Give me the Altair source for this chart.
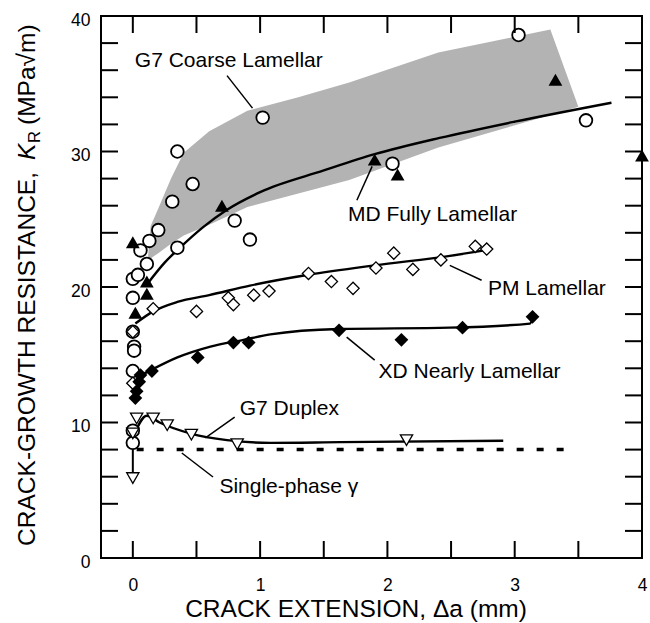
import altair as alt
import pandas as pd

FONT = "Liberation Sans"
W, H = 541, 542

# ---------------- data ----------------
# G7 Coarse Lamellar (open circles)
coarse_x = [1.02, 0.35, 0.47, 0.31, 0.80, 0.92, 0.20, 0.13, 0.35, 0.06, 0.11, 0.00, 0.04,
            0.00, 0.00, 0.01, 0.01, 0.00, 0.00, 0.00, 3.03, 3.56, 2.04]
coarse_y = [32.5, 30.0, 27.6, 26.3, 24.9, 23.5, 24.2, 23.4, 22.9, 22.7, 21.7, 20.6, 20.9,
            19.2, 16.7, 15.6, 15.3, 13.8, 9.4, 8.5, 38.6, 32.3, 29.1]
# MD Fully Lamellar (filled triangles)
md_x = [0.00, 0.11, 0.11, 0.02, 0.70, 1.90, 2.08, 3.32, 4.00]
md_y = [23.3, 20.4, 19.5, 18.1, 26.0, 29.4, 28.3, 35.3, 29.7]
# PM Lamellar (open diamonds)
pm_x = [0.00, 0.00, 0.16, 0.50, 0.75, 0.79, 0.95, 1.07, 1.38, 1.56, 1.73, 1.91, 2.05,
        2.20, 2.42, 2.69, 2.78]
pm_y = [16.7, 12.9, 18.4, 18.2, 19.2, 18.7, 19.4, 19.7, 21.0, 20.4, 19.9, 21.4, 22.5,
        21.3, 22.0, 23.0, 22.8]
# XD Nearly Lamellar (filled diamonds)
xd_x = [0.02, 0.03, 0.05, 0.06, 0.15, 0.51, 0.79, 0.91, 1.62, 2.11, 2.59, 3.14]
xd_y = [11.8, 12.3, 13.0, 13.5, 13.8, 14.8, 15.9, 15.9, 16.8, 16.1, 17.0, 17.8]
# G7 Duplex (open down triangles)
dup_x = [0.03, 0.16, 0.27, 0.46, 0.82, 0.00, 0.00, 2.15]
dup_y = [10.3, 10.3, 9.8, 9.1, 8.4, 9.2, 5.9, 8.7]

# fitted curves
md_fit_x = [0.12, 0.25, 0.37, 0.55, 0.74, 1.00, 1.50, 1.90, 2.41, 3.00, 3.76]
md_fit_y = [20.3, 21.8, 22.9, 24.4, 25.7, 27.0, 28.6, 29.8, 31.0, 32.2, 33.6]
pm_fit_x = [0.02, 0.16, 0.35, 0.60, 0.92, 1.38, 1.90, 2.49, 2.82]
pm_fit_y = [17.3, 18.2, 18.9, 19.4, 20.1, 20.9, 21.6, 22.3, 22.8]
xd_fit_x = [0.03, 0.15, 0.35, 0.61, 0.87, 1.08, 1.62, 2.49, 3.12, 3.14]
xd_fit_y = [13.3, 13.9, 14.8, 15.6, 16.1, 16.5, 16.9, 17.0, 17.3, 17.7]
dup_fit_x = [0.00, 0.11, 0.21, 0.45, 0.74, 1.08, 1.63, 2.91]
dup_fit_y = [8.9, 10.5, 10.0, 9.2, 8.7, 8.5, 8.55, 8.65]

# scatter band of G7 coarse lamellar
band_x = [0.12, 0.14, 0.20, 0.30, 0.40, 0.60, 0.90, 1.30, 1.70, 2.40, 3.28, 3.50]
band_lo = [22.0, 22.1, 22.5, 23.2, 23.8, 24.6, 25.9, 26.9, 27.9, 30.3, 32.7, 33.3]
band_hi = [22.3, 24.5, 25.8, 28.0, 29.9, 31.5, 33.0, 34.0, 35.1, 37.3, 39.0, 33.3]

# single-phase gamma level
gamma_level = 8.0
gamma_x = [0.03, 3.40]

# arrow at x=0 for duplex
arrow_x = [0.0]
arrow_y = [8.9]
arrow_y2 = [6.0]

# annotations
ann_text = ["G7 Coarse Lamellar", "MD Fully Lamellar", "PM Lamellar",
            "XD Nearly Lamellar", "G7 Duplex", "Single-phase \u03b3"]
ann_x = [0.016, 1.69, 2.79, 1.93, 0.84, 0.68]
ann_y = [36.2, 24.9, 19.4, 13.3, 10.55, 4.8]
lead_x = [0.74, 1.88, 2.49, 1.68, 0.80, 0.385]
lead_y = [35.6, 28.9, 21.6, 16.3, 10.4, 7.75]
lead_x2 = [0.94, 1.76, 2.74, 1.90, 0.57, 0.63]
lead_y2 = [33.2, 26.4, 20.5, 14.6, 8.86, 5.98]

x_tick_labels = [0, 1, 2, 3, 4]
y_tick_labels = [0, 10, 20, 30, 40]
x_minor = [0, 0.5, 1, 1.5, 2, 2.5, 3, 3.5]
y_minor = [2, 4, 6, 8, 10, 12, 14, 16, 18, 20, 22, 24, 26, 28, 30, 32, 34, 36, 38]

# ---------------- chart ----------------
xscale = alt.Scale(domain=[-0.25, 4.0], nice=False, zero=False)
yscale = alt.Scale(domain=[0, 40], nice=False, zero=False)
xaxis = alt.Axis(values=x_tick_labels, format="d", labelFont=FONT, labelFontSize=17.5,
                 labelColor="black", ticks=False, tickSize=0, domain=False, grid=False,
                 labelPadding=18, labelFlush=False, labelOverlap=False, title=None)
yaxis = alt.Axis(values=y_tick_labels, format="d", labelFont=FONT, labelFontSize=17.5,
                 labelColor="black", ticks=False, tickSize=0, domain=False, grid=False,
                 labelPadding=11, labelOffset=4, labelFlush=False, labelOverlap=False,
                 title=None)


def X(f):
    return alt.X(f"{f}:Q", scale=xscale, axis=xaxis)


def Y(f):
    return alt.Y(f"{f}:Q", scale=yscale, axis=yaxis)


band = alt.Chart(pd.DataFrame({"x": band_x, "lo": band_lo, "hi": band_hi})).mark_area(
    color="#b3b3b3", opacity=1).encode(x=X("x"), y=Y("lo"), y2=alt.Y2("hi"))

gamma = alt.Chart(pd.DataFrame({"x": [gamma_x[0]], "x2": [gamma_x[1]], "y": [gamma_level]})).mark_rule(
    color="black", strokeWidth=3.5, strokeDash=[7, 13]).encode(x=X("x"), x2=alt.X2("x2"), y=Y("y"))

fit_rows = []
for name, xs, ys in [("md", md_fit_x, md_fit_y), ("pm", pm_fit_x, pm_fit_y),
                     ("xd", xd_fit_x, xd_fit_y), ("dup", dup_fit_x, dup_fit_y)]:
    for i, (a, b) in enumerate(zip(xs, ys)):
        fit_rows.append({"s": name, "i": i, "x": a, "y": b})
fits = alt.Chart(pd.DataFrame(fit_rows)).mark_line(
    color="black", strokeWidth=2.4, interpolate="monotone").encode(
    x=X("x"), y=Y("y"), detail="s:N", order="i:Q")

arrow = alt.Chart(pd.DataFrame({"x": arrow_x, "y": arrow_y, "y2": arrow_y2})).mark_rule(
    color="black", strokeWidth=2).encode(x=X("x"), y=Y("y"), y2=alt.Y2("y2"))

leads = alt.Chart(pd.DataFrame({"x": lead_x, "y": lead_y, "x2": lead_x2, "y2": lead_y2})).mark_rule(
    color="black", strokeWidth=1.5).encode(x=X("x"), y=Y("y"), x2=alt.X2("x2"), y2=alt.Y2("y2"))

circles = alt.Chart(pd.DataFrame({"x": coarse_x, "y": coarse_y})).mark_point(
    shape="circle", size=160, fill="white", stroke="black", strokeWidth=1.8, opacity=1,
    fillOpacity=1).encode(x=X("x"), y=Y("y"))
tri_up = alt.Chart(pd.DataFrame({"x": md_x, "y": md_y})).mark_point(
    shape="triangle-up", size=190, filled=True, color="black", opacity=1).encode(x=X("x"), y=Y("y"))
dia_open = alt.Chart(pd.DataFrame({"x": pm_x, "y": pm_y})).mark_point(
    shape="diamond", size=150, fill="white", stroke="black", strokeWidth=1.3, opacity=1,
    fillOpacity=1).encode(x=X("x"), y=Y("y"))
dia_fill = alt.Chart(pd.DataFrame({"x": xd_x, "y": xd_y})).mark_point(
    shape="diamond", size=190, filled=True, color="black", opacity=1).encode(x=X("x"), y=Y("y"))
tri_down = alt.Chart(pd.DataFrame({"x": dup_x, "y": dup_y})).mark_point(
    shape="triangle-down", size=150, fill="white", stroke="black", strokeWidth=1.3, opacity=1,
    fillOpacity=1).encode(x=X("x"), y=Y("y"))

ann = alt.Chart(pd.DataFrame({"x": ann_x, "y": ann_y, "t": ann_text})).mark_text(
    font=FONT, fontSize=21, align="left", baseline="alphabetic", color="black").encode(
    x=X("x"), y=Y("y"), text="t:N")

tick_x_df = pd.DataFrame({"t": x_minor})
tick_y_df = pd.DataFrame({"t": y_minor})
tb = alt.Chart(tick_x_df).mark_rule(color="black", strokeWidth=2).encode(
    x=X("t"), y=alt.value(H), y2=alt.value(H - 17))
tt = alt.Chart(tick_x_df).mark_rule(color="black", strokeWidth=2).encode(
    x=X("t"), y=alt.value(0), y2=alt.value(17))
tl = alt.Chart(tick_y_df).mark_rule(color="black", strokeWidth=2).encode(
    y=Y("t"), x=alt.value(0), x2=alt.value(17))
tr = alt.Chart(tick_y_df).mark_rule(color="black", strokeWidth=2).encode(
    y=Y("t"), x=alt.value(W), x2=alt.value(W - 17))

# axis titles as text
TS = 24.5
xt = alt.Chart(pd.DataFrame({"t": ["CRACK EXTENSION, \u0394a (mm)"]})).mark_text(
    font=FONT, fontSize=TS, align="center", baseline="alphabetic", color="black").encode(
    text="t:N", x=alt.value(255), y=alt.value(601))
yA = alt.Chart(pd.DataFrame({"t": ["CRACK-GROWTH RESISTANCE,"]})).mark_text(
    font=FONT, fontSize=TS, align="right", baseline="alphabetic", angle=270, color="black").encode(
    text="t:N", x=alt.value(-66), y=alt.value(156))
yK = alt.Chart(pd.DataFrame({"t": ["K"]})).mark_text(
    font=FONT, fontSize=TS, fontStyle="italic", align="left", baseline="alphabetic", angle=270,
    color="black").encode(text="t:N", x=alt.value(-66), y=alt.value(144))
yR = alt.Chart(pd.DataFrame({"t": ["R"]})).mark_text(
    font=FONT, fontSize=16.5, align="left", baseline="alphabetic", angle=270,
    color="black").encode(text="t:N", x=alt.value(-61), y=alt.value(127))
yD = alt.Chart(pd.DataFrame({"t": ["(MPa\u221am)"]})).mark_text(
    font=FONT, fontSize=TS, align="left", baseline="alphabetic", angle=270,
    color="black").encode(text="t:N", x=alt.value(-66), y=alt.value(109))

chart = alt.layer(
    band, gamma, fits, arrow, leads, circles, tri_up, dia_open, dia_fill, tri_down,
    ann, tb, tt, tl, tr, xt, yA, yK, yR, yD
).properties(
    width=W, height=H,
    autosize=alt.AutoSizeParams(type="none"),
    padding={"left": 101, "top": 16, "right": 8, "bottom": 65},
    background="white",
).configure_view(stroke="black", strokeWidth=2)

chart.save("out.html", embed_options={"renderer": "svg", "actions": False})
